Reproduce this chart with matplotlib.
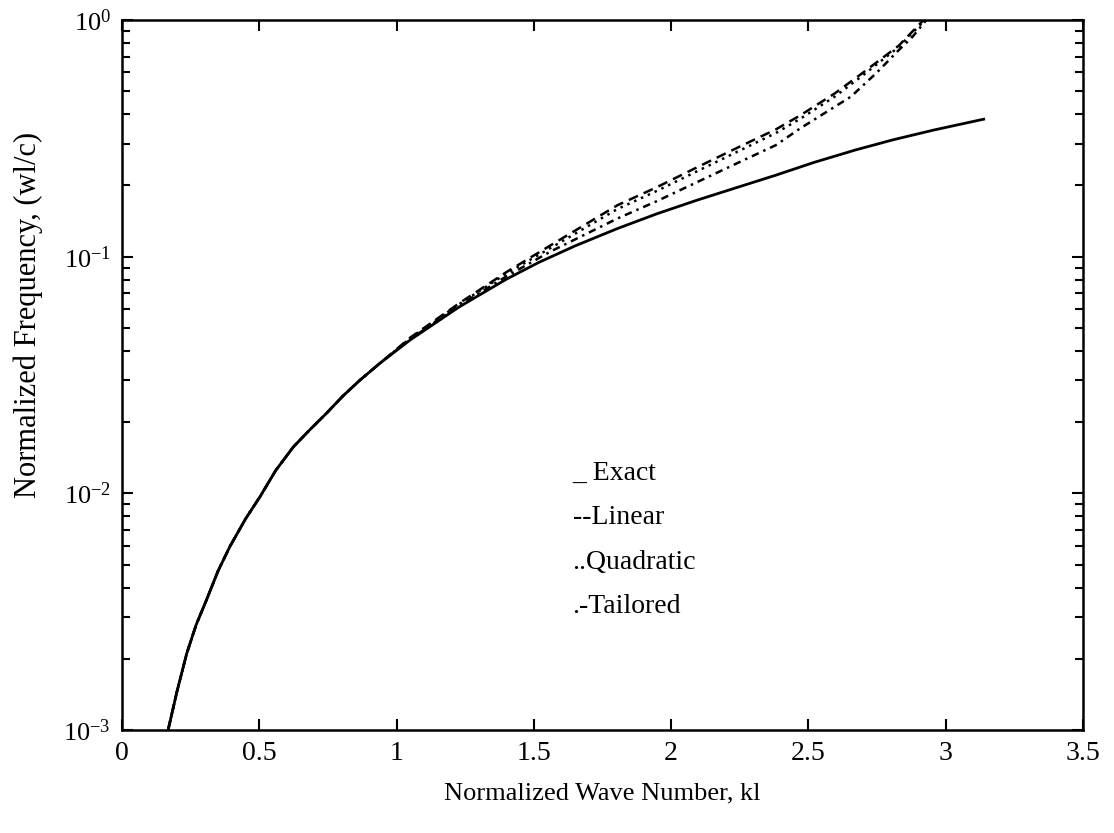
import matplotlib
matplotlib.use("Agg")
import matplotlib.pyplot as plt

plt.rcParams["font.family"] = ["Liberation Serif", "DejaVu Serif"]
plt.rcParams["mathtext.fontset"] = "custom"
plt.rcParams["mathtext.rm"] = "Liberation Serif"

# exact dispersion curve
k_exact = [0.168, 0.20, 0.236, 0.27, 0.308, 0.35, 0.393, 0.45, 0.503, 0.56, 0.624,
           0.685, 0.745, 0.805, 0.867, 0.94, 1.05, 1.228, 1.40, 1.516, 1.65, 1.805,
           1.95, 2.093, 2.24, 2.382, 2.52, 2.670, 2.81, 2.958, 3.139]
w_exact = [0.001, 0.00145, 0.00211, 0.00278, 0.00355, 0.0047, 0.00596, 0.0078, 0.00969,
           0.0125, 0.0157, 0.0186, 0.0218, 0.0258, 0.0301, 0.0355, 0.0445, 0.0613,
           0.0803, 0.0943, 0.111, 0.1315, 0.152, 0.173, 0.196, 0.221, 0.25, 0.282,
           0.312, 0.343, 0.381]

# approximations: they follow the exact curve up to kl ~ 0.94, then split off
k_lin = [1.05, 1.228, 1.40, 1.574, 1.805, 1.95, 2.093, 2.24, 2.382, 2.47, 2.597,
         2.70, 2.83, 2.92]
w_lin = [0.0455, 0.0635, 0.086, 0.114, 0.165, 0.197, 0.238, 0.288, 0.345, 0.395,
         0.49, 0.60, 0.78, 1.0]

k_quad = [1.05, 1.228, 1.40, 1.574, 1.805, 1.95, 2.093, 2.24, 2.382, 2.47, 2.597,
          2.70, 2.83, 2.925]
w_quad = [0.0452, 0.063, 0.0848, 0.111, 0.159, 0.190, 0.229, 0.277, 0.333, 0.382,
          0.475, 0.585, 0.77, 1.0]

k_tail = [1.05, 1.228, 1.40, 1.56, 1.805, 1.95, 2.093, 2.24, 2.382, 2.47, 2.656,
          2.75, 2.83, 2.88, 2.93]
w_tail = [0.0448, 0.0622, 0.0825, 0.105, 0.145, 0.172, 0.206, 0.248, 0.296, 0.348,
          0.475, 0.60, 0.747, 0.85, 1.0]

n_shared = 16  # points of the exact curve shared by all approximations

fig = plt.figure(figsize=(11.14, 8.33), dpi=100)
ax = fig.add_axes([0.1095, 0.1236, 0.8625, 0.8524])

ax.plot(k_exact[:n_shared] + k_lin, w_exact[:n_shared] + w_lin,
        color="black", lw=1.8, linestyle=(0, (4, 2.5)))
ax.plot(k_exact[:n_shared] + k_quad, w_exact[:n_shared] + w_quad,
        color="black", lw=1.8, linestyle=(0, (1, 2)))
ax.plot(k_exact[:n_shared] + k_tail, w_exact[:n_shared] + w_tail,
        color="black", lw=1.8, linestyle=(0, (3, 2, 1, 2)))
ax.plot(k_exact, w_exact, "-", color="black", lw=2.0)

ax.set_yscale("log")
ax.set_xlim(0, 3.5)
ax.set_ylim(1e-3, 1)
ax.set_xticks([0, 0.5, 1, 1.5, 2, 2.5, 3, 3.5])
ax.set_xticklabels(["0", "0.5", "1", "1.5", "2", "2.5", "3", "3.5"])

ax.tick_params(which="both", direction="in", top=True, right=True, width=1.5)
ax.tick_params(axis="x", labelsize=20)
ax.tick_params(axis="y", labelsize=19)
ax.tick_params(which="major", length=8, pad=8)
ax.tick_params(which="minor", length=6)
for s in ax.spines.values():
    s.set_linewidth(1.8)

ax.set_xlabel("Normalized Wave Number, kl", fontsize=19, labelpad=12)
ax.set_ylabel("Normalized Frequency, (wl/c)", fontsize=22)
ax.yaxis.set_label_coords(-0.082, 0.585)

labels = ["_ Exact", "--Linear", "..Quadratic", ".-Tailored"]
ys = [0.361, 0.299, 0.236, 0.174]
for lab, yy in zip(labels, ys):
    ax.text(0.469, yy, lab, transform=ax.transAxes, fontsize=20, va="center", ha="left")

fig.savefig("out.png", dpi=100)
